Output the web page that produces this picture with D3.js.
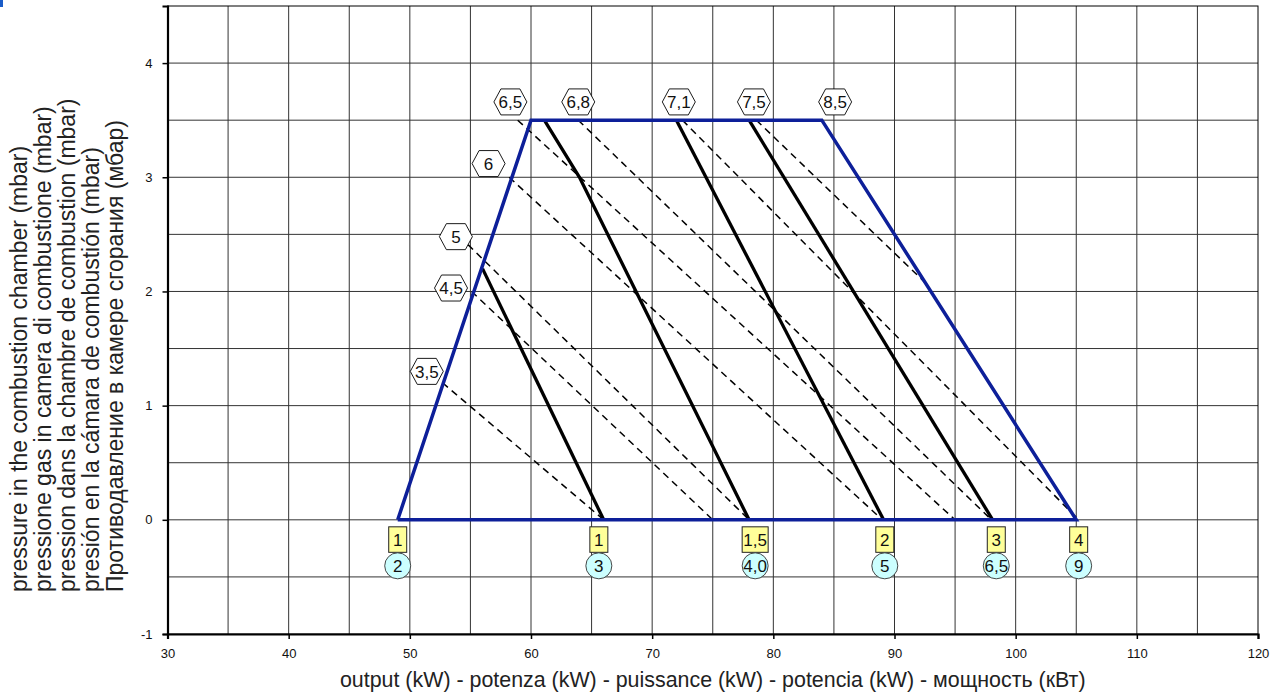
<!DOCTYPE html>
<html>
<head>
<meta charset="utf-8">
<script src="https://cdn.jsdelivr.net/npm/d3@7"></script>
<style>
  body { margin: 0; background: #fff; }
  svg { display: block; font-family: "Liberation Sans", Arial, sans-serif; }
</style>
</head>
<body>
<svg id="chart" width="1278" height="697"></svg>
<script>
// working envelope of the burner (kW, mbar)
const envelope = [[49, 0], [60, 3.5], [84, 3.5], [105, 0], [49, 0]];

// solid black lines
const solidLines = [
  [[56, 2.2], [66, 0]],
  [[61.1, 3.5], [64, 3.0], [78, 0]],
  [[72, 3.5], [89.1, 0]],
  [[78, 3.5], [98.1, 0]]
];

// dashed lines
const dashLines = [
  [[52.7, 1.2], [66, 0]],
  [[55.1, 2.0], [75, 0]],
  [[54.8, 2.41], [78, 0]],
  [[58.2, 3.0], [89, 0]],
  [[58.9, 3.5], [95, 0]],
  [[63.9, 3.5], [98, 0]],
  [[72.5, 3.5], [105.2, 0]],
  [[78.6, 3.5], [92.8, 2.05]]
];

// hexagon labels
const hexText = ["3,5", "4,5", "5", "6", "6,5", "6,8", "7,1", "7,5", "8,5"];
const hexX = [51.4, 53.4, 53.8, 56.5, 58.3, 63.9, 72.2, 78.4, 85.1];
const hexY = [1.30, 2.03, 2.48, 3.12, 3.66, 3.66, 3.66, 3.66, 3.66];

// labels under the x = 0 line
const outX = [49, 65.6, 78.5, 89.2, 98.4, 105.2];
const boxText = ["1", "1", "1,5", "2", "3", "4"];
const circleText = ["2", "3", "4,0", "5", "6,5", "9"];

const xTicks = [30, 40, 50, 60, 70, 80, 90, 100, 110, 120];
const yTicks = [-1, 0, 1, 2, 3, 4];

const yTitle = [
  "pressure in the combustion chamber (mbar)",
  "pressione gas in camera di combustione (mbar)",
  "pression dans la chambre de combustion (mbar)",
  "presión en la cámara de combustión (mbar)",
  "Противодавление в камере сгорания (мбар)"
];
const xTitle = "output (kW) - potenza (kW) - puissance (kW) - potencia (kW) - мощность (кВт)";

const svg = d3.select("#chart");

const x = d3.scaleLinear().domain([30, 120]).range([167.5, 1258]);
const y = d3.scaleLinear().domain([-1, 4.5]).range([634, 6]);

const line = d3.line().x(d => x(d[0])).y(d => y(d[1]));

// little blue mark in the corner
svg.append("rect").attr("x", 0).attr("y", 0).attr("width", 3).attr("height", 7).attr("fill", "#1a5cc8");

// grid
const g = svg.append("g");
g.selectAll(".vg")
  .data(d3.range(35, 120, 5))
  .enter().append("line")
  .attr("x1", d => x(d)).attr("x2", d => x(d))
  .attr("y1", y(4.5)).attr("y2", y(-1))
  .attr("stroke", "#333").attr("stroke-width", 1);
g.selectAll(".hg")
  .data(d3.range(-0.5, 4.5, 0.5))
  .enter().append("line")
  .attr("x1", x(30)).attr("x2", x(120))
  .attr("y1", d => y(d)).attr("y2", d => y(d))
  .attr("stroke", "#333").attr("stroke-width", 1);

// frame top/right
svg.append("rect")
  .attr("x", x(30)).attr("y", y(4.5))
  .attr("width", x(120) - x(30)).attr("height", y(-1) - y(4.5))
  .attr("fill", "none").attr("stroke", "#000").attr("stroke-width", 1);

// dashed lines
svg.selectAll(".dash")
  .data(dashLines)
  .enter().append("path")
  .attr("d", line)
  .attr("fill", "none").attr("stroke", "#000")
  .attr("stroke-width", 1.5).attr("stroke-dasharray", "7,5");

// solid lines
svg.selectAll(".solid")
  .data(solidLines)
  .enter().append("path")
  .attr("d", line)
  .attr("fill", "none").attr("stroke", "#000").attr("stroke-width", 3.3);

// envelope
svg.append("path")
  .datum(envelope)
  .attr("d", line)
  .attr("fill", "none").attr("stroke", "#0d1f99")
  .attr("stroke-width", 3.5).attr("stroke-linejoin", "miter");

// axes
const fmt = d => String(d);
const xAxis = svg.append("g")
  .attr("transform", `translate(0,${y(-1)})`)
  .call(d3.axisBottom(x).tickValues(xTicks).tickSize(5).tickPadding(10).tickFormat(fmt));
const yAxis = svg.append("g")
  .attr("transform", `translate(${x(30)},0)`)
  .call(d3.axisLeft(y).tickValues(yTicks).tickSize(5).tickPadding(10).tickFormat(fmt));
[xAxis, yAxis].forEach(a => {
  a.select(".domain").attr("stroke", "#000").attr("stroke-width", 2.2);
  a.selectAll(".tick line").attr("stroke", "#000").attr("stroke-width", 1.5);
  a.selectAll("text").attr("font-size", 13).attr("fill", "#111")
    .attr("font-family", "Liberation Sans, Arial, sans-serif");
});

// hexagon labels
const hex = [[-16.5, 0], [-9.5, -13], [9.5, -13], [16.5, 0], [9.5, 13], [-9.5, 13]];
const hg = svg.selectAll(".hex")
  .data(hexText)
  .enter().append("g")
  .attr("transform", (d, i) => `translate(${x(hexX[i])},${y(hexY[i])})`);
hg.append("polygon")
  .attr("points", hex.map(p => p.join(",")).join(" "))
  .attr("fill", "#fff").attr("stroke", "#000").attr("stroke-width", 0.9);
hg.append("text")
  .attr("text-anchor", "middle").attr("dy", "0.36em")
  .attr("font-size", 17).attr("fill", "#111")
  .text(d => d);

// boxes and circles below the axis
const bg = svg.selectAll(".out")
  .data(outX)
  .enter().append("g")
  .attr("transform", d => `translate(${x(d)},${y(0)})`);
bg.append("rect")
  .attr("x", (d, i) => boxText[i].length > 1 ? -13 : -9)
  .attr("width", (d, i) => boxText[i].length > 1 ? 26 : 18)
  .attr("y", 7).attr("height", 25.5)
  .attr("fill", "#ffff99").attr("stroke", "#222").attr("stroke-width", 1);
bg.append("text")
  .attr("text-anchor", "middle").attr("y", 20).attr("dy", "0.36em")
  .attr("font-size", 17).attr("fill", "#111")
  .text((d, i) => boxText[i]);
bg.append("circle")
  .attr("cy", 46).attr("r", 13)
  .attr("fill", "#ccffff").attr("stroke", "#333").attr("stroke-width", 0.9);
bg.append("text")
  .attr("text-anchor", "middle").attr("y", 46).attr("dy", "0.36em")
  .attr("font-size", 17).attr("fill", "#111")
  .text((d, i) => circleText[i]);

// titles
svg.append("text")
  .attr("x", (x(30) + x(120)) / 2).attr("y", 687)
  .attr("text-anchor", "middle").attr("font-size", 21.4).attr("fill", "#222")
  .text(xTitle);

svg.append("g")
  .selectAll("text")
  .data(yTitle)
  .enter().append("text")
  .attr("transform", (d, i) => `translate(${27 + i * 24},592) rotate(-90)`)
  .attr("text-anchor", "start").attr("font-size", 23).attr("fill", "#222")
  .text(d => d);
</script>
</body>
</html>
